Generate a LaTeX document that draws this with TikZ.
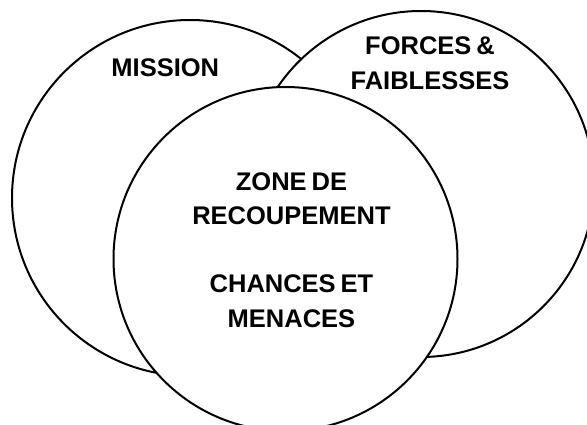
\documentclass[tikz,border=0pt]{standalone}
\usepackage{fontspec}
\setmainfont{Liberation Sans}[WordSpace=0.7]
\begin{document}
\begin{tikzpicture}[x=1pt,y=-1pt,
  venn/.style={circle, draw=black, fill=white, line width=2pt, inner sep=0pt},
  lbl/.style={font=\fontsize{25.5}{34.2}\selectfont\bfseries, align=center, inner sep=0pt}]
\useasboundingbox (0,0) rectangle (587,425);
\clip (0,0) rectangle (587,425);
% three overlapping sets, back to front
\node[venn, minimum size=356pt] (mission) at (190,198) {};
\node[venn, minimum size=346pt] (forces) at (421,184) {};
\node[venn, minimum size=344pt] (zone) at (285.5,259) {};
% labels
\node[lbl] (tmission) at (165.3,67.8) {MISSION};
\node[lbl] (tforces) at (430,63.3) {FORCES \&\\FAIBLESSES};
\node[lbl] (tzone) at (291.5,250) {ZONE DE\\RECOUPEMENT\\[34.2pt]CHANCES ET\\MENACES};
\end{tikzpicture}
\end{document}
